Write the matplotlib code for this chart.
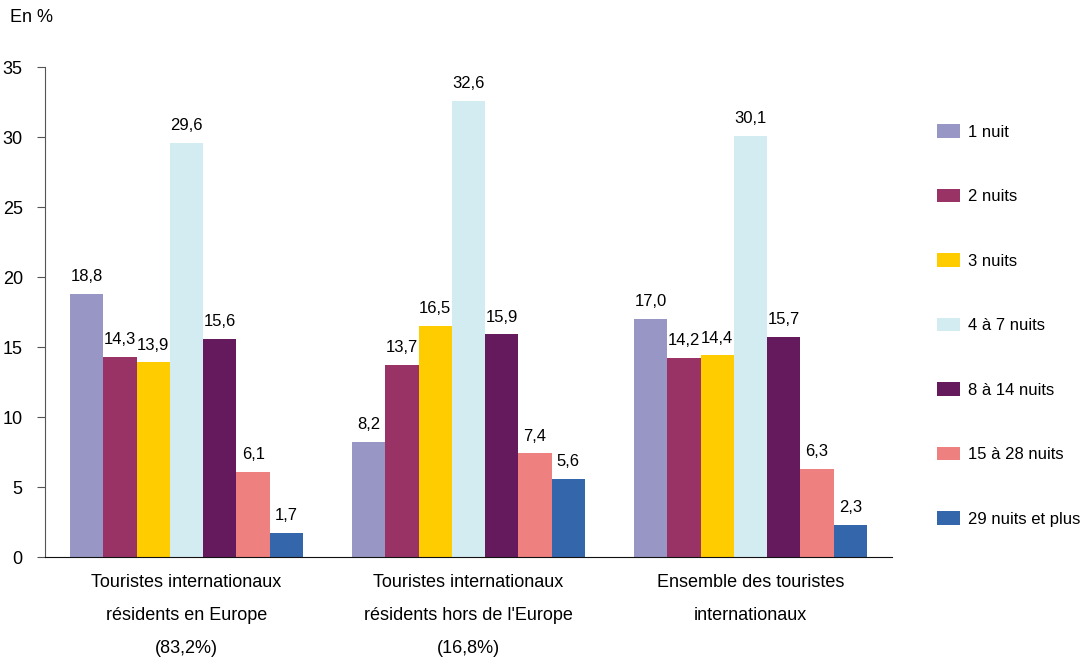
import matplotlib
matplotlib.use("Agg")
import matplotlib.pyplot as plt
import numpy as np

plt.rcParams['font.family'] = ['Liberation Sans Narrow', 'Liberation Sans', 'DejaVu Sans']

groups = ["Touristes internationaux\nrésidents en Europe\n(83,2%)",
          "Touristes internationaux\nrésidents hors de l'Europe\n(16,8%)",
          "Ensemble des touristes\ninternationaux"]
series = ["1 nuit", "2 nuits", "3 nuits", "4 à 7 nuits", "8 à 14 nuits", "15 à 28 nuits", "29 nuits et plus"]
values = [
    [18.8, 8.2, 17.0],
    [14.3, 13.7, 14.2],
    [13.9, 16.5, 14.4],
    [29.6, 32.6, 30.1],
    [15.6, 15.9, 15.7],
    [6.1, 7.4, 6.3],
    [1.7, 5.6, 2.3],
]
colors = ["#9896c4", "#993366", "#ffcc00", "#d2ecf2", "#661a5e", "#ef8080", "#3366aa"]

fig = plt.figure(figsize=(10.87, 6.63), dpi=100)
ax = fig.add_axes([45/1087, 1-557/663, 847/1087, 490/663])

w = 33.3/282
x = np.arange(len(groups))
fs = 13
vfs = 12
for j, (name, vals, c) in enumerate(zip(series, values, colors)):
    pos = x + (j - 3) * w
    ax.bar(pos, vals, width=w, color=c, label=name, linewidth=0)
    for p, v in zip(pos, vals):
        ax.annotate(f"{v:.1f}".replace(".", ","), (p, v), xytext=(0, 7),
                    textcoords="offset points", ha="center", va="bottom", fontsize=vfs)

ax.set_xlim(-0.502, 2.502)
ax.set_ylim(0, 35)
ax.set_yticks(range(0, 36, 5))
ax.tick_params(axis='y', labelsize=fs, length=6, color='#555555', pad=10)
ax.set_xticks(x)
ax.set_xticklabels(groups, fontsize=fs, linespacing=2.25, va='top')
ax.tick_params(axis='x', length=0, pad=12)
for s in ['top', 'right']:
    ax.spines[s].set_visible(False)
ax.spines['left'].set_color('#555555')
ax.spines['bottom'].set_color('#111111')

fig.text(10/1087, 1-18/663, "En %", fontsize=fs, ha='left', va='center')

leg = fig.legend(loc='upper left', bbox_to_anchor=(922/1087, 1-109/663), frameon=False,
                 fontsize=12, labelspacing=2.93, handlelength=1.38, handleheight=0.9,
                 handletextpad=0.5)
fig.savefig("out.png", dpi=100)
